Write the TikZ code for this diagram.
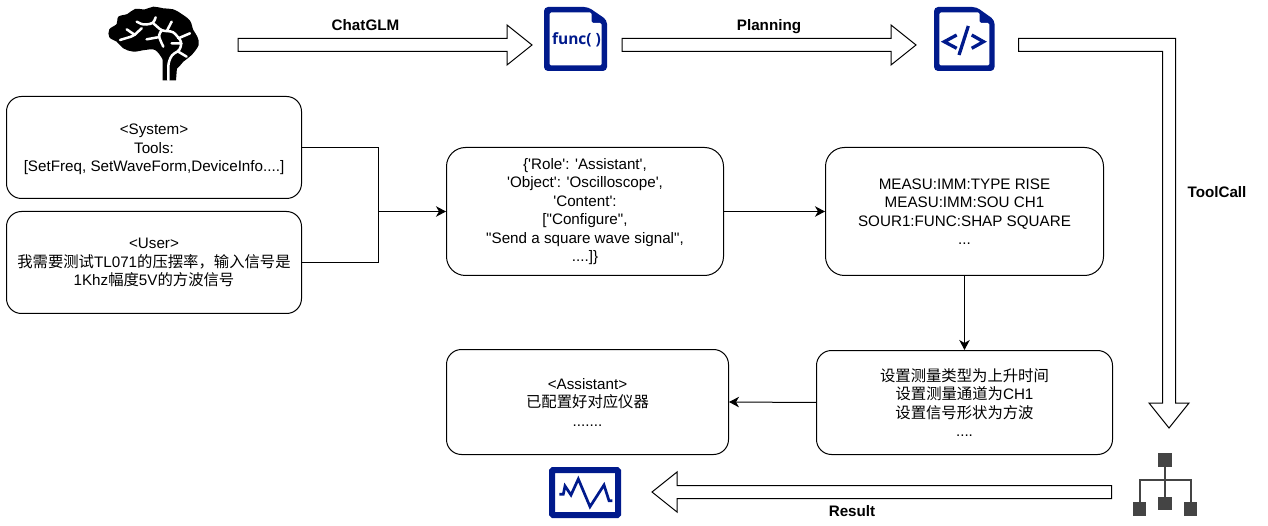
\documentclass[tikz,border=0pt]{standalone}
\usepackage{fontspec}
\setmainfont{Liberation Sans}
\newfontfamily\boxfont{Liberation Sans}
\newfontfamily\cjk[Scale=1.01]{Noto Sans CJK SC}
\newfontfamily\iconfont{Open Sans}
\usetikzlibrary{arrows.meta,calc}
\definecolor{iconblue}{RGB}{0, 26, 140}
\definecolor{icongrey}{RGB}{68, 68, 68}

\tikzset{
    textbox/.style={draw, line width=1pt, rounded corners=15pt, align=center, inner sep=0pt,
        font={\boxfont\fontsize{15.2}{18.5}\selectfont}},
    wire/.style={line width=1pt},
    flow/.style={wire, -{Stealth[length=10pt,width=10.5pt,inset=3pt]}},
    blockarrow/.style={draw, line width=1pt, fill=white, miter limit=10},
    blocklabel/.style={font={\fontsize{15.2}{18.5}\selectfont\bfseries}, inner sep=0pt, anchor=base},
    hubsquare/.style={fill=icongrey, minimum size=13.5pt, inner sep=0pt},
    docicon/.pic={
        \fill[iconblue, rounded corners=4pt] (-31.5,-32) -- (12.5,-32) -- (31.5,-19) -- (31.5,32) -- (-31.5,32) -- cycle;
        \fill[white, rounded corners=1.5pt] (-26,-26.5) -- (16,-26.5) -- (16,-16) -- (26,-16) -- (26,26.5) -- (-26,26.5) -- cycle;
    }
}

% horizontal block arrow: start, tip, direction
\newcommand{\hblock}[3]{
    \draw[blockarrow] ($(#1)+(0,-6.5)$) -- ($(#2)+(-#3*25,-6.5)$) -- ($(#2)+(-#3*25,-20)$) -- (#2)
        -- ($(#2)+(-#3*25,20)$) -- ($(#2)+(-#3*25,6.5)$) -- ($(#1)+(0,6.5)$) -- cycle;
}

\begin{document}
\begin{tikzpicture}[x=1pt, y=-1pt]
    \useasboundingbox (0,0) rectangle (1268,526);

    % text boxes
    \node[textbox, minimum width=295pt, minimum height=102pt] (system) at (154,147.5)
        {\rule{0pt}{15pt}<System>\\Tools:\\{[}SetFreq, SetWaveForm,DeviceInfo....{]}};
    \node[textbox, minimum width=295pt, minimum height=102pt] (user) at (154,262.5)
        {<User>\\{\cjk 我需要测试}TL071{\cjk 的压摆率，输入信号是}\\1Khz{\cjk 幅度}5V{\cjk 的方波信号}};
    \node[textbox, rounded corners=19pt, minimum width=277pt, minimum height=128pt] (role) at (585,211.5)
        {\{'Role': 'Assistant',\\'Object': 'Oscilloscope',\\'Content':\\{[}"Configure",\\"Send a square wave signal",\\....{]}\}};
    \node[textbox, rounded corners=19pt, minimum width=278pt, minimum height=128pt] (measu) at (964.5,211.5)
        {MEASU:IMM:TYPE RISE\\MEASU:IMM:SOU CH1\\SOUR1:FUNC:SHAP SQUARE\\...};
    \node[textbox, minimum width=296pt, minimum height=104pt] (setting) at (964.5,402.5)
        {{\cjk 设置测量类型为上升时间}\\{\cjk 设置测量通道为}CH1\\{\cjk 设置信号形状为方波}\\....};
    \node[textbox, minimum width=282pt, minimum height=105pt] (assistant) at (587.5,402)
        {<Assistant>\\{\cjk 已配置好对应仪器}\\.......};

    \coordinate (merge) at (378.5,211.5);
    \draw[wire] (system.east) -| (merge);
    \draw[wire] (user.east) -| (merge);
    \draw[flow] (merge) -- (role.west);
    \draw[flow] (role.east) -- (measu.west);
    \draw[flow] (measu.south) -- (setting.north);
    \draw[flow] (setting.west) -- (assistant.east);

    % block arrows
    \coordinate (glmstart) at (238,45);
    \coordinate (glmtip) at (532,45);
    \coordinate (planstart) at (622,45);
    \coordinate (plantip) at (916,45);
    \coordinate (resultstart) at (1111.5,492);
    \coordinate (resulttip) at (652,492);
    \hblock{glmstart}{glmtip}{1}
    \hblock{planstart}{plantip}{1}
    \hblock{resultstart}{resulttip}{-1}
    \draw[blockarrow] (1018.5,38.5) -- (1175.5,38.5) -- (1175.5,403) -- (1189,403) -- (1169,428) -- (1149,403)
        -- (1162.5,403) -- (1162.5,51.5) -- (1018.5,51.5) -- cycle;

    \node[blocklabel] (chatglm) at (365.5,31) {ChatGLM};
    \node[blocklabel] (planning) at (769,31) {Planning};
    \node[blocklabel] (toolcall) at (1217,197.5) {ToolCall};
    \node[blocklabel] (result) at (852,516) {Result};

    % brain
    \begin{scope}[xshift=90pt, x=0.3333pt, y=-0.3333pt]
        \fill plot[smooth cycle, tension=0.6] coordinates {(218,178) (195,150) (165,150) (130,155) (100,145)
            (80,125) (58,112) (58,88) (80,72) (85,50) (112,42) (135,27) (165,28) (190,20) (220,25)
            (250,28) (275,42) (300,62) (310,90) (322,110) (326,135) (305,165) (280,185) (262,205) (235,215)};
        \fill (218,170) -- (218,241) -- (258,241) -- (262,190) -- cycle;
        \draw[white, line width=2.5pt, line cap=round, rounded corners=3pt]
            (90,120) -- (130,108) -- (155,85)
            (110,88) -- (135,105)
            (140,65) -- (160,75) -- (190,70) -- (197,52)
            (190,70) -- (215,92) -- (250,95) -- (275,125) -- (270,150) -- (245,165) -- (235,190) -- (235,241)
            (215,92) -- (205,105) -- (215,130) -- (220,140)
            (170,118) -- (203,112)
            (232,90) -- (245,65)
            (265,115) -- (300,100)
            (245,130) -- (275,130)
            (265,155) -- (290,170);
    \end{scope}

    % document icons
    \pic at (575.5,39) {docicon};
    \node[text=iconblue, inner sep=0pt, font={\iconfont\fontsize{15.5}{18}\selectfont\bfseries}] (func) at (576.5,40) {func( )};
    \pic[xscale=0.96] at (964.3,39) {docicon};
    \draw[iconblue, line width=3.3pt, miter limit=10] (956.7,35) -- (944.3,41.7) -- (956.7,48.3)
        (968.3,26) -- (959,55)
        (971.7,35) -- (983.5,41.7) -- (971.7,48.3);

    % oscilloscope icon
    \node[draw=iconblue, line width=6pt, rounded corners=1pt, minimum width=66pt, minimum height=45pt, inner sep=0pt] (scopeicon) at (585,492.5) {};
    \draw[iconblue, line width=2.7pt] (559.3,494.3) -- (563.3,494.3) -- (565,486) -- (571,495) -- (578.3,479)
        -- (590,506.7) -- (604,485) -- (609,500.7) -- (612.3,500.7);

    % hierarchy icon
    \node[hubsquare] (hubtop) at (1165,460) {};
    \node[hubsquare] (hubleft) at (1139.5,509) {};
    \node[hubsquare] (hubmid) at (1165,503.5) {};
    \node[hubsquare] (hubright) at (1190.5,509) {};
    \coordinate (hubbus) at (1165,480);
    \draw[icongrey, line width=2pt] (hubtop) -- (hubmid);
    \draw[icongrey, line width=2pt] (hubleft.north) |- (hubbus) -| (hubright.north);
\end{tikzpicture}
\end{document}
